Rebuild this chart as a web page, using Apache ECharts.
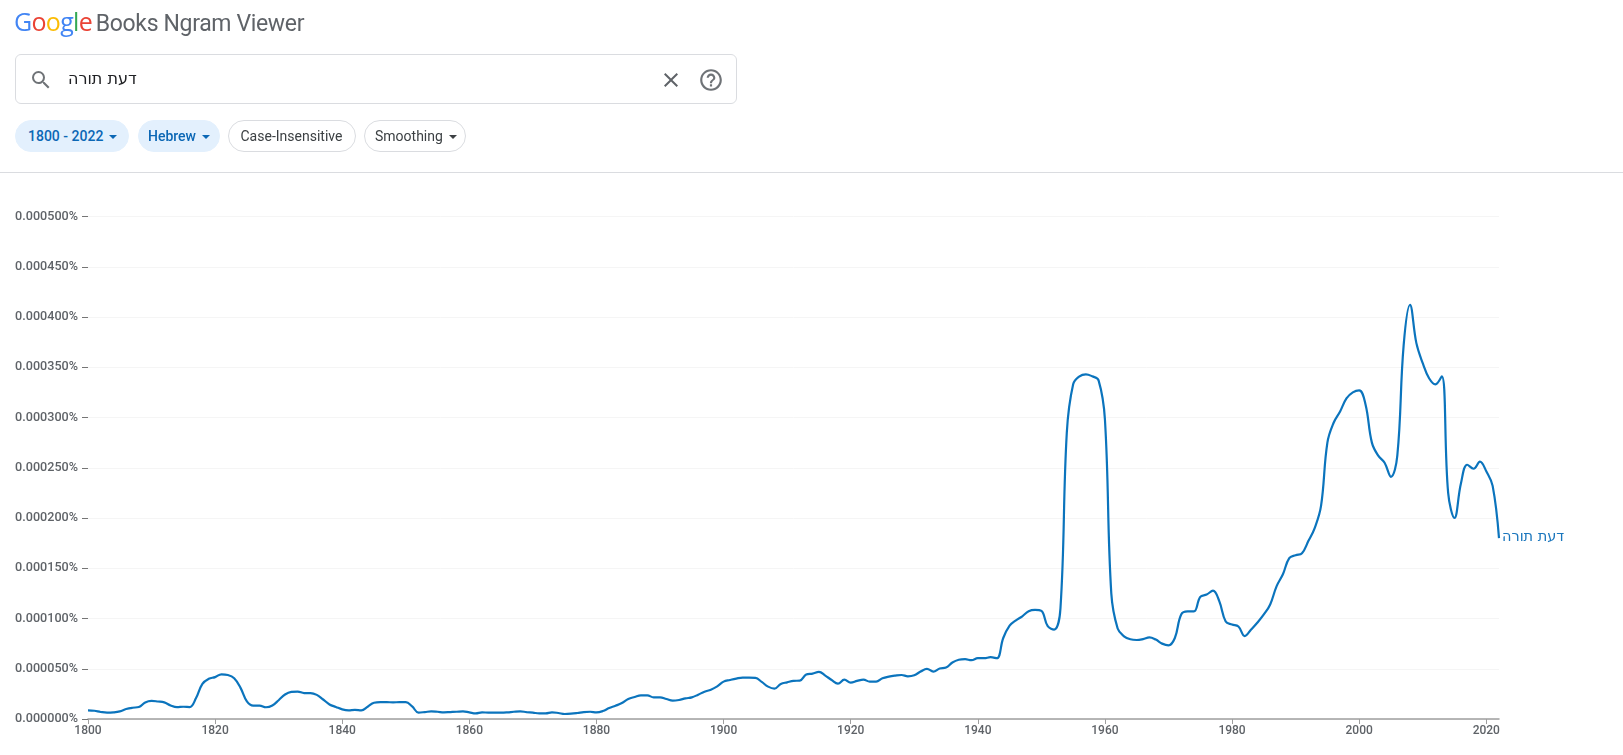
<!DOCTYPE html>
<html><head><meta charset="utf-8">
<script src="https://cdn.jsdelivr.net/npm/echarts@6/dist/echarts.min.js"></script>
<style>
html,body{margin:0;padding:0;background:#fff;width:1623px;height:755px;overflow:hidden;font-family:Roboto,sans-serif}
#chart{position:absolute;left:0;top:0;width:1623px;height:755px}
.a{position:absolute;white-space:nowrap}
.chip{position:absolute;top:120px;height:32px;line-height:30px;box-sizing:border-box;border-radius:16px;font-size:14px;text-align:left;padding-left:12px;color:#3c4043;border:1px solid #dadce0;background:#fff}
.chip.on{border-color:#e3f0fd;color:#0b67b5;font-weight:500;background:#e3f0fd}
.car{display:inline-block;width:0;height:0;border-left:4px solid transparent;border-right:4px solid transparent;border-top:4px solid currentColor;margin-left:6px;vertical-align:2px}
</style></head><body>
<div id="chart"></div>
<div class="a" style="left:14px;top:3px;font-size:25px;line-height:36px;font-family:'Open Sans',Roboto,sans-serif;letter-spacing:-0.7px;color:#5f6368"><span style="color:#4285f4">G</span><span style="color:#ea4335">o</span><span style="color:#fbbc05">o</span><span style="color:#4285f4">g</span><span style="color:#34a853">l</span><span style="color:#ea4335">e</span> <span style="font-family:Roboto,sans-serif;font-size:23px;letter-spacing:-0.35px;margin-left:-2px">Books Ngram Viewer</span></div>
<div class="a" style="left:15px;top:54px;width:722px;height:50px;box-sizing:border-box;border:1px solid #dadce0;border-radius:6px"></div>
<svg class="a" style="left:29px;top:68px" width="24" height="24" viewBox="0 0 24 24" fill="#6f7377"><path d="M15.5 14h-.79l-.28-.27A6.47 6.47 0 0 0 16 9.5 6.5 6.5 0 1 0 9.5 16c1.61 0 3.09-.59 4.23-1.57l.27.28v.79l5 4.99L20.49 19l-4.99-5zm-6 0C7.01 14 5 11.99 5 9.5S7.01 5 9.5 5 14 7.01 14 9.5 11.99 14 9.5 14z"/></svg>
<div class="a" dir="rtl" style="left:68px;top:68px;font-size:16px;line-height:22px;color:#202124;font-family:'DejaVu Sans',sans-serif">דעת תורה</div>
<svg class="a" style="left:659px;top:68px" width="24" height="24" viewBox="0 0 24 24" fill="#5f6368"><path d="M19 6.41 17.59 5 12 10.59 6.41 5 5 6.41 10.59 12 5 17.59 6.41 19 12 13.41 17.59 19 19 17.59 13.41 12z"/></svg>
<svg class="a" style="left:698px;top:67px" width="26" height="26" viewBox="0 0 24 24" fill="#6f7377"><path d="M11 18h2v-2h-2v2zm1-16C6.48 2 2 6.48 2 12s4.48 10 10 10 10-4.48 10-10S17.52 2 12 2zm0 18c-4.41 0-8-3.59-8-8s3.59-8 8-8 8 3.59 8 8-3.59 8-8 8zm0-14c-2.21 0-4 1.79-4 4h2c0-1.1.9-2 2-2s2 .9 2 2c0 2-3 1.75-3 5h2c0-2.25 3-2.5 3-5 0-2.21-1.79-4-4-4z"/></svg>
<div class="chip on" style="left:15px;width:114px">1800 - 2022<span class="car"></span></div>
<div class="chip on" style="left:138px;width:82px;padding-left:9px">Hebrew<span class="car"></span></div>
<div class="chip" style="left:228px;width:128px;padding-left:11.5px">Case-Insensitive</div>
<div class="chip" style="left:364px;width:102px;padding-left:10px">Smoothing<span class="car"></span></div>
<div class="a" style="left:0;top:172px;width:1623px;height:1px;background:#dadce0"></div>
<script>
const seriesName = 'דעת תורה';
const startYear = 1800;
const yTicksMax = 500;
// frequency in millionths of a percent, one value a year from 1800 to 2022
const v1800s = [8.6,8.2,7,6.3,6.6,7.6,9.9,11.2,11.9,16.5,18,17.4,16.5,13.5,11.8,12.2,11.9,20.8,35,40,41.7,44.5,43.8,40.5,31,17.6,13.4,13.4,11.7,13.4,18.7,24.4,27,27.3,25.8,25.8,24,19.4,14.5,12,9.6,8.6,9,8.6,12.2,16.2,16.8,16.8,16.5,16.8,16.8,12.5,6.4,6.9,7.6,7.2,6.6,6.9,7.2,7.6,6.6,5.6,6.6,6.3,6.3,6.3,6.6,7.2,7.6,6.9,6.3,5.6,5.6,6.6,6,5,5.3,6,6.9,7.2,6.6,7.9,10.9,13.2,15.9,19.9,21.9,23.5,23.5,21.5,21.5,19.9,18.2,18.9,20.5,21.5,24.2,27.2,29.2,32.5];
const v1900s = [37.2,38.8,40.2,41.2,41.2,40.9,36.9,32.2,30.2,34.9,36.5,37.9,38.2,44.2,45.2,46.9,43.2,38.8,35.2,39.2,36.2,37.9,39.2,37.2,37.2,40.5,42.2,43.2,43.8,42.5,43.5,47.2,49.9,47.2,50.2,51.2,56.2,58.9,59.5,58.5,60.5,60.5,61.5,60.5,80.6,92.9,98.2,102.2,107.2,108.5,107.5,92.3,89,110,285,333,341,343,341,337,298,125,90,82.3,79.3,78.6,79.5,81.2,79,75,73.3,80.6,104,107,107,121.5,123.8,127.7,117,97,94,92,82.5,89,96,104,114,132,144,160,163,165,177,190,212,275,295,306,319,325];
const v2000s = [327,313,275,262,255,241,262,372,412,374,354,339,333,341,225,200,234,253,249,256,246.5,232,180];
const values = v1800s.concat(v1900s, v2000s);
const years = values.map((_, i) => String(startYear + i));
const chart = echarts.init(document.getElementById('chart'));
chart.setOption({
  animation:false,
  textStyle:{fontFamily:'Roboto,sans-serif'},
  grid:{left:88,right:124,top:216.5,bottom:36,containLabel:false},
  xAxis:{type:'category',data:years,boundaryGap:false,
    axisLine:{lineStyle:{color:'#9e9e9e',width:1.5}},
    axisTick:{interval:19,length:5,lineStyle:{color:'#9e9e9e'}},
    axisLabel:{interval:19,fontSize:12,color:'#5f6368',fontWeight:500,margin:6},
    splitLine:{show:false}},
  yAxis:{type:'value',min:0,max:yTicksMax,interval:50,
    axisLine:{show:false},
    axisTick:{show:true,length:6,inside:false,lineStyle:{color:'#757575'}},
    axisLabel:{fontSize:12.6,color:'#5f6368',fontWeight:500,margin:10,formatter:v=>(v/1e6).toFixed(6)+'%'},
    splitLine:{show:true,lineStyle:{color:'#f5f5f5',width:1}}},
  series:[{name:seriesName,type:'line',data:values,smooth:0.4,showSymbol:false,symbol:'none',
    lineStyle:{color:'#0b74bd',width:2.2},itemStyle:{color:'#0b74bd'},
    endLabel:{show:true,formatter:seriesName,color:'#1a76bd',fontSize:14.5,distance:3,offset:[0,-1],fontFamily:"'DejaVu Sans',sans-serif"}}]
});
</script>
</body></html>
